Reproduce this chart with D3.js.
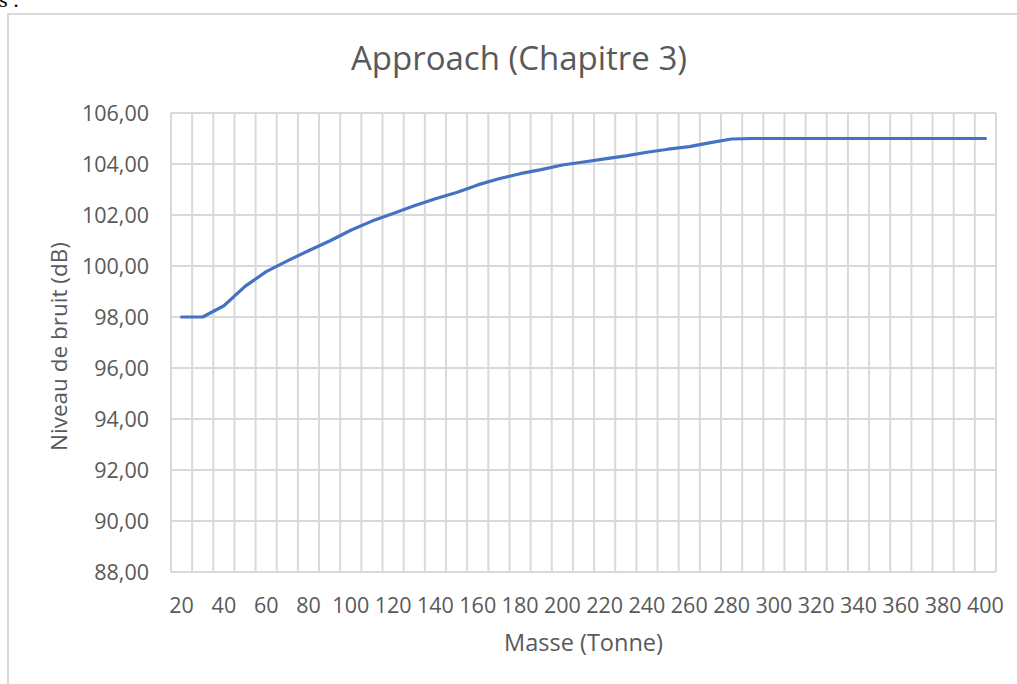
<!DOCTYPE html>
<html>
<head>
<meta charset="utf-8">
<script src="https://cdn.jsdelivr.net/npm/d3@7"></script>
<style>
  html, body { margin: 0; padding: 0; background: #fff; }
  svg { display: block; }
</style>
</head>
<body>
<svg id="chart" width="1017" height="684"></svg>
<script>
const titleText = "Approach (Chapitre 3)";
const xTitle = "Masse (Tonne)";
const yTitle = "Niveau de bruit (dB)";

const masses = [20, 30, 40, 50, 60, 70, 80, 90, 100, 110, 120, 130, 140, 150, 160, 170, 180, 190, 200,
  210, 220, 230, 240, 250, 260, 270, 280, 290, 300, 310, 320, 330, 340, 350, 360, 370, 380, 390, 400];
const noiseLevels = [98.00, 98.00, 98.44, 99.20, 99.78, 100.20, 100.60, 100.98, 101.40, 101.76, 102.06,
  102.36, 102.64, 102.88, 103.18, 103.42, 103.62, 103.78, 103.96, 104.08, 104.20, 104.32, 104.46,
  104.58, 104.68, 104.84, 104.98, 105.00, 105.00, 105.00, 105.00, 105.00, 105.00, 105.00, 105.00,
  105.00, 105.00, 105.00, 105.00];
const xTickLabels = [20, 40, 60, 80, 100, 120, 140, 160, 180, 200, 220, 240, 260, 280, 300, 320, 340, 360, 380, 400];
const yTickValues = [88, 90, 92, 94, 96, 98, 100, 102, 104, 106];

const FONT = "'Open Sans', 'Noto Sans', sans-serif";
const TEXT = "#595959";
const GRID = "#d9d9d9";

const svg = d3.select("#chart");

// fragment of surrounding document text
svg.append("text").attr("x", -1).attr("y", 7)
  .attr("font-family", "'Liberation Serif', 'DejaVu Serif', serif")
  .attr("font-size", 22).attr("fill", "#000").text("s :");

// chart frame
svg.append("rect").attr("x", 8).attr("y", 14).attr("width", 1020).attr("height", 700)
  .attr("fill", "#fff").attr("stroke", GRID).attr("stroke-width", 2);

const plotLeft = 171, plotRight = 996, plotTop = 113, plotBottom = 572;

const x = d3.scaleBand().domain(masses).range([plotLeft, plotRight]).padding(0);
const y = d3.scaleLinear().domain([88, 106]).range([plotBottom, plotTop]);

// vertical gridlines at category boundaries
const vBounds = masses.map(m => x(m)).concat([plotRight]);
svg.append("g").selectAll("line").data(vBounds).join("line")
  .attr("x1", d => d).attr("x2", d => d)
  .attr("y1", plotTop).attr("y2", plotBottom)
  .attr("stroke", GRID).attr("stroke-width", 2);

// horizontal gridlines
svg.append("g").selectAll("line").data(yTickValues).join("line")
  .attr("x1", plotLeft).attr("x2", plotRight)
  .attr("y1", d => y(d)).attr("y2", d => y(d))
  .attr("stroke", GRID).attr("stroke-width", 2);

// y axis labels
const fmt = d => d3.format(".2f")(d).replace(".", ",");
const yAxis = d3.axisLeft(y).tickValues(yTickValues).tickFormat(fmt).tickSize(0).tickPadding(0);
const yG = svg.append("g").attr("transform", `translate(149,0)`).call(yAxis);
yG.select(".domain").remove();
yG.selectAll("text").attr("font-family", FONT).attr("font-size", 21.5).attr("fill", TEXT)
  .attr("x", 0).attr("dy", "0.36em");

// x axis labels
const xAxis = d3.axisBottom(x).tickValues(xTickLabels).tickSize(0).tickPadding(0);
const xG = svg.append("g").attr("transform", `translate(0,${plotBottom})`).call(xAxis);
xG.select(".domain").remove();
xG.selectAll("text").attr("font-family", FONT).attr("font-size", 21.5).attr("fill", TEXT)
  .attr("y", 41).attr("dy", 0);

// data line
const line = d3.line()
  .x((d, i) => x(masses[i]) + x.bandwidth() / 2)
  .y(d => y(d));
svg.append("path").datum(noiseLevels)
  .attr("d", line)
  .attr("fill", "none").attr("stroke", "#4472C4").attr("stroke-width", 3.2)
  .attr("stroke-linejoin", "round").attr("stroke-linecap", "round");

// titles
svg.append("text").attr("x", 519).attr("y", 70).attr("text-anchor", "middle")
  .attr("font-family", FONT).attr("font-size", 33).attr("fill", TEXT).text(titleText);

svg.append("text").attr("x", (plotLeft + plotRight) / 2).attr("y", 651).attr("text-anchor", "middle")
  .attr("font-family", FONT).attr("font-size", 23.5).attr("fill", TEXT).text(xTitle);

svg.append("text").attr("transform", `translate(67,${(plotTop + plotBottom) / 2 + 4}) rotate(-90)`)
  .attr("text-anchor", "middle")
  .attr("font-family", FONT).attr("font-size", 22.5).attr("fill", TEXT).text(yTitle);
</script>
</body>
</html>
